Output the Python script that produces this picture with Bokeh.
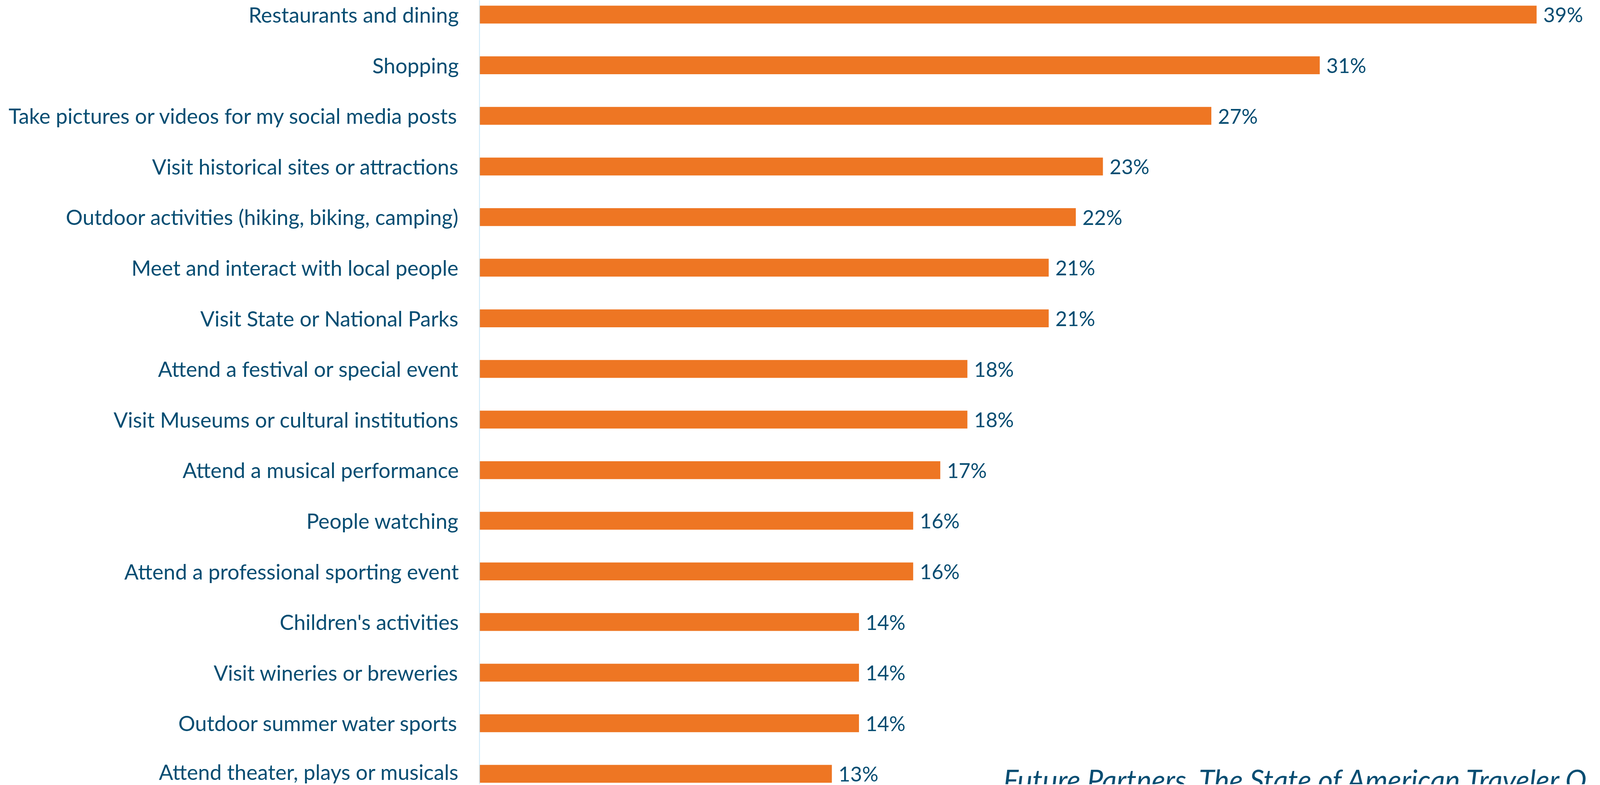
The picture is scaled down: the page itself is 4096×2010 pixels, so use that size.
from bokeh.plotting import figure
from bokeh.models import Range1d, FixedTicker, ColumnDataSource, Label
from bokeh.core.properties import value
from bokeh.embed import file_html
from bokeh.resources import INLINE

categories = [
    "Restaurants and dining",
    "Shopping",
    "Take pictures or videos for my social media posts",
    "Visit historical sites or attractions",
    "Outdoor activities (hiking, biking, camping)",
    "Meet and interact with local people",
    "Visit State or National Parks",
    "Attend a festival or special event",
    "Visit Museums or cultural institutions",
    "Attend a musical performance",
    "People watching",
    "Attend a professional sporting event",
    "Children's activities",
    "Visit wineries or breweries",
    "Outdoor summer water sports",
    "Attend theater, plays or musicals",
]
percent = [39, 31, 27, 23, 22, 21, 21, 18, 18, 17, 16, 16, 14, 14, 14, 13]
value_labels = [f"{v}%" for v in percent]
source_note = "Future Partners. The State of American Traveler  O"

TEXT = "#064d72"
BAR = "#EE7623"
AXIS = "#c8e6f7"
FONT = "Lato"

W, H = 4092, 2008
FRAME_LEFT = 1227
PX_PER_PCT = 69.39
ROW_PX = 129.6
FIRST_ROW_PX = 36.96

idx = list(range(len(categories)))
src = ColumnDataSource(dict(y=idx, v=percent, lab=value_labels))

x_end = (W - FRAME_LEFT) / PX_PER_PCT
y_top = -FIRST_ROW_PX / ROW_PX
y_bottom = y_top + H / ROW_PX

p = figure(width=W, height=H, output_backend="svg", toolbar_location=None,
           x_range=Range1d(0, x_end), y_range=Range1d(y_bottom, y_top),
           min_border_left=FRAME_LEFT, min_border_right=0, min_border_top=0,
           min_border_bottom=0, x_axis_location=None)
p.outline_line_color = None
p.grid.visible = False
p.background_fill_color = "white"
p.border_fill_color = "white"

p.hbar(y="y", left=0, right="v", height=0.353, source=src,
       fill_color=BAR, line_color=None)

p.text(x="v", y="y", text="lab", source=src, x_offset=17,
       text_align="left", text_baseline="middle", text_color=TEXT,
       text_font=value(FONT), text_font_size="52px")

ax = p.yaxis[0]
ax.ticker = FixedTicker(ticks=idx)
ax.major_label_overrides = {i: c for i, c in zip(idx, categories)}
ax.major_label_text_font = FONT
ax.major_label_text_font_size = "54px"
ax.major_label_text_color = TEXT
ax.major_label_standoff = 47
ax.major_tick_line_color = None
ax.minor_tick_line_color = None
ax.axis_line_color = AXIS
ax.axis_line_width = 2

note = Label(x=(2568 - FRAME_LEFT) / PX_PER_PCT, y=y_top + 1995 / ROW_PX,
             text=source_note, text_font=FONT, text_font_style="italic",
             text_font_size="73px", text_color=TEXT,
             text_align="left", text_baseline="alphabetic")
p.add_layout(note)

open("out.html", "w").write(file_html(p, INLINE))
